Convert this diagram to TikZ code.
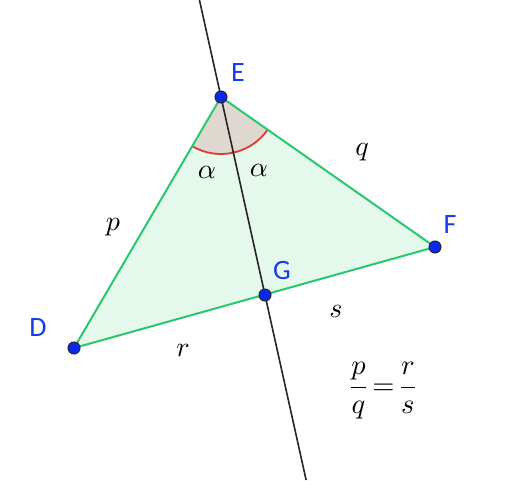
\documentclass[tikz,border=0pt]{standalone}
\usepackage{fontspec}
\setsansfont{Carlito}
\usetikzlibrary{calc}
\definecolor{edgegreen}{RGB}{40,200,110}
\definecolor{trifill}{RGB}{228,248,236}
\definecolor{anglefill}{RGB}{222,216,208}
\definecolor{anglered}{RGB}{220,60,50}
\definecolor{ptblue}{RGB}{10,40,240}
\definecolor{lblblue}{RGB}{20,60,235}
\newcommand{\mlab}[1]{\scalebox{2.8}{$#1$}}
\newcommand{\flab}[1]{\scalebox{2.85}{$\displaystyle #1$}}
\tikzset{
  edge/.style={draw=edgegreen, line width=2pt},
  axis/.style={draw=black!85, line width=1.6pt},
  pt/.style={circle, fill=ptblue, draw=black!85, line width=1pt, inner sep=0pt, minimum size=12pt},
  ptlabel/.style={text=lblblue, font=\sffamily\fontsize{28}{31}\selectfont, inner sep=0pt},
  mlabel/.style={inner sep=0pt}
}
\begin{document}
\begin{tikzpicture}[x=1pt,y=1pt]
\useasboundingbox (0,0) rectangle (505,480);
\coordinate (E) at (221,383);
\coordinate (F) at (435,233);
\coordinate (D) at (74,132);
\coordinate (G) at (265,185);
\coordinate (Ltop) at ($(E)!-0.49!(G)$);
\coordinate (Lbot) at ($(E)!1.934!(G)$);
% triangle fill
\fill[trifill] (D) -- (E) -- (F) -- cycle;
% angle sector
\fill[anglefill] (E) -- ++(239.6:57) arc[start angle=239.6, end angle=325, radius=57] -- cycle;
\draw[anglered, line width=1.8pt] ($(E)+(239.6:57)$) arc[start angle=239.6, end angle=325, radius=57];
% edges
\draw[edge] (D) -- (E);
\draw[edge] (E) -- (F);
\draw[edge] (F) -- (D);
% line through E and G
\draw[axis] (Ltop) -- (Lbot);
% points
\node[pt] (Ep) at (E) {};
\node[pt] (Fp) at (F) {};
\node[pt] (Dp) at (D) {};
\node[pt] (Gp) at (G) {};
% point labels
\node[ptlabel] (El) at (238,407) {E};
\node[ptlabel] (Fl) at (450,255) {F};
\node[ptlabel] (Dl) at (38,152) {D};
\node[ptlabel] (Gl) at (282,209) {G};
% side and angle labels
\node[mlabel] (a1) at (207,308) {\mlab{\alpha}};
\node[mlabel] (a2) at (259,310) {\mlab{\alpha}};
\node[mlabel] (lp) at (113,253) {\mlab{p}};
\node[mlabel] (lq) at (362,328) {\mlab{q}};
\node[mlabel] (lr) at (183,130) {\mlab{r}};
\node[mlabel] (ls) at (336,169) {\mlab{s}};
\node[mlabel] (frm) at (383,89) {\flab{\frac{p}{q}\!=\!\frac{r}{s}}};
\end{tikzpicture}
\end{document}
